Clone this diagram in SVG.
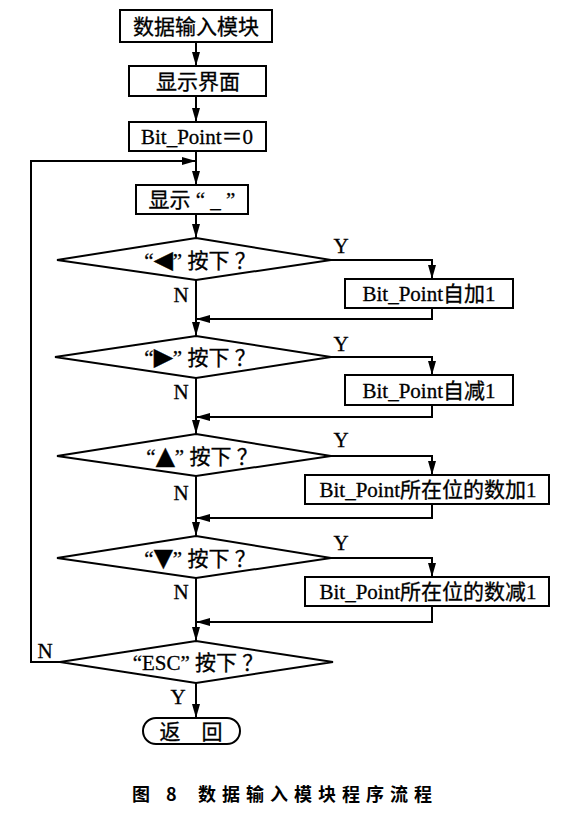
<svg xmlns="http://www.w3.org/2000/svg" width="573" height="816" viewBox="0 0 573 816">
<style>
.box{fill:#fff;stroke:#000;stroke-width:2}
.ln{fill:none;stroke:#000;stroke-width:2}
.t{font-family:"Liberation Serif","Noto Sans CJK SC",serif;font-size:21px;fill:#000;text-anchor:middle;stroke:#000;stroke-width:0.3}
.sym{font-family:"DejaVu Sans",sans-serif;font-size:25px}
.cap{font-family:"Noto Sans CJK SC",sans-serif;font-size:18px;font-weight:bold;fill:#000;letter-spacing:6px}
</style>
<defs>
<marker id="ah" viewBox="0 0 14 8" refX="14" refY="4" markerWidth="14" markerHeight="8" markerUnits="userSpaceOnUse" orient="auto">
<path d="M0,0 L14,4 L0,8 Z" fill="#000"/>
</marker>
</defs>
<rect width="573" height="816" fill="#fff"/>
<g id="connectors">
<path class="ln" d="M196,42 V66" marker-end="url(#ah)"/>
<path class="ln" d="M196,96 V122" marker-end="url(#ah)"/>
<path class="ln" d="M196,151 V185" marker-end="url(#ah)"/>
<path class="ln" d="M196,214 V238" marker-end="url(#ah)"/>
<path class="ln" d="M196,280 V336" marker-end="url(#ah)"/>
<path class="ln" d="M196,378 V434" marker-end="url(#ah)"/>
<path class="ln" d="M196,476 V536" marker-end="url(#ah)"/>
<path class="ln" d="M196,578 V641" marker-end="url(#ah)"/>
<path class="ln" d="M196,683 V718" marker-end="url(#ah)"/>
<path class="ln" d="M331,260 H432 V279" marker-end="url(#ah)"/>
<path class="ln" d="M432,308 V319 H196" marker-end="url(#ah)"/>
<path class="ln" d="M331,357 H432 V375" marker-end="url(#ah)"/>
<path class="ln" d="M432,405 V417 H196" marker-end="url(#ah)"/>
<path class="ln" d="M331,456 H432 V475" marker-end="url(#ah)"/>
<path class="ln" d="M432,504 V518 H196" marker-end="url(#ah)"/>
<path class="ln" d="M331,558 H432 V577" marker-end="url(#ah)"/>
<path class="ln" d="M432,606 V622 H196" marker-end="url(#ah)"/>
<path class="ln" d="M60,662 H31 V161 H196" marker-end="url(#ah)"/>
<text class="t" x="341" y="253">Y</text>
<text class="t" x="341" y="351">Y</text>
<text class="t" x="341" y="447">Y</text>
<text class="t" x="341" y="550">Y</text>
<text class="t" x="181" y="302">N</text>
<text class="t" x="181" y="399">N</text>
<text class="t" x="181" y="500">N</text>
<text class="t" x="181" y="599">N</text>
<text class="t" x="45" y="658">N</text>
<text class="t" x="178" y="704">Y</text>
</g>
<g id="start">
<rect class="box" x="120" y="10" width="152" height="32"/>
<text class="t" x="196" y="34">数据输入模块</text>
</g>
<g id="display">
<rect class="box" x="129" y="66" width="137" height="30"/>
<text class="t" x="198" y="89">显示界面</text>
</g>
<g id="init">
<rect class="box" x="129" y="122" width="137" height="29"/>
<text class="t" x="197" y="144">Bit_Point＝0</text>
</g>
<g id="show">
<rect class="box" x="136" y="185" width="112" height="29"/>
<text class="t" x="192" y="207">显示 “ _ ”</text>
</g>
<g id="d1">
<polygon class="box" points="196,238 331,260 196,280 57,260"/>
<text class="t" x="200" y="268">“<tspan class="sym">◀</tspan>” 按下 ？</text>
</g>
<g id="b1">
<rect class="box" x="345" y="279" width="168" height="29"/>
<text class="t" x="429" y="301">Bit_Point自加1</text>
</g>
<g id="d2">
<polygon class="box" points="196,336 331,357 196,378 55,357"/>
<text class="t" x="200" y="365">“<tspan class="sym">▶</tspan>” 按下 ？</text>
</g>
<g id="b2">
<rect class="box" x="345" y="375" width="168" height="30"/>
<text class="t" x="429" y="398">Bit_Point自减1</text>
</g>
<g id="d3">
<polygon class="box" points="196,434 331,456 196,476 57,456"/>
<text class="t" x="202" y="464">“<tspan class="sym">▲</tspan>” 按下 ？</text>
</g>
<g id="b3">
<rect class="box" x="305" y="475" width="244" height="29"/>
<text class="t" x="428" y="497">Bit_Point所在位的数加1</text>
</g>
<g id="d4">
<polygon class="box" points="196,536 331,558 196,578 57,558"/>
<text class="t" x="200" y="566">“<tspan class="sym">▼</tspan>” 按下 ？</text>
</g>
<g id="b4">
<rect class="box" x="305" y="577" width="244" height="29"/>
<text class="t" x="428" y="599">Bit_Point所在位的数减1</text>
</g>
<g id="d5">
<polygon class="box" points="196,641 333,662 196,683 60,662"/>
<text class="t" x="198" y="670">“ESC” 按下 ？</text>
</g>
<g id="end">
<rect class="box" x="143" y="718" width="97" height="26" rx="13" ry="13"/>
<text class="t" x="191" y="739">返　回</text>
</g>
<text class="cap" x="132" y="801">图 8</text>
<text class="cap" x="198" y="801">数据输入模块程序流程</text>
</svg>
